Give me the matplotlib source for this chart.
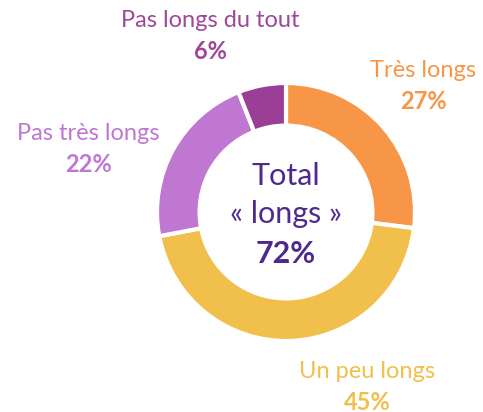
import matplotlib
matplotlib.use("Agg")
import matplotlib.pyplot as plt

# Share of answers, clockwise from 12 o'clock
labels = ["Très longs", "Un peu longs", "Pas très longs", "Pas longs du tout"]
values = [27, 45, 22, 6]
colors = ["#F79646", "#F1BF4B", "#BF77D1", "#9B3F96"]
text_colors = ["#F79646", "#F1BF4B", "#C077D2", "#A0479B"]
total_label = ["Total", "« longs »"]
total_value = 72

plt.rcParams["font.family"] = ["Lato", "DejaVu Sans"]

W, H = 483, 412
fig = plt.figure(figsize=(W / 100, H / 100), dpi=100)
ax = fig.add_axes([0, 0, 1, 1])

cx, cy, r = 286, H - 212, 129
ax.pie(values, colors=colors, startangle=90, counterclock=False,
       center=(cx, cy), radius=r, frame=True,
       wedgeprops=dict(width=r * 0.33, edgecolor="white", linewidth=3))
ax.set_xlim(0, W)
ax.set_ylim(0, H)
ax.set_aspect("equal")
ax.axis("off")

# label positions in pixels (x, y from top)
pos = [(423, 70), (367, 371), (88, 133), (210, 20)]
for lab, val, col, (x, y) in zip(labels, values, text_colors, pos):
    ax.text(x, H - y, lab, color=col, fontsize=17, ha="center", va="center")
    ax.text(x, H - y - 31, f"{val}%", color=col, fontsize=17,
            fontweight="bold", ha="center", va="center")

purple = "#4F2A8C"
ax.text(cx, H - 176, total_label[0], color=purple, fontsize=22, ha="center", va="center")
ax.text(cx, H - 214, total_label[1], color=purple, fontsize=22, ha="center", va="center")
ax.text(cx, H - 254, f"{total_value}%", color=purple, fontsize=22,
        fontweight="bold", ha="center", va="center")

fig.savefig("out.png", dpi=100, facecolor="white")
